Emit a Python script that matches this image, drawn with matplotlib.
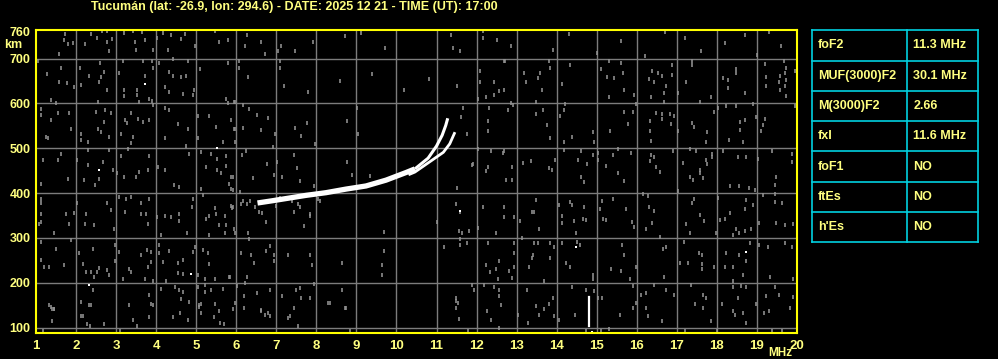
#!/usr/bin/env python3
"""Ionogram plot: Tucumán, 2025-12-21 17:00 UT."""

import matplotlib

matplotlib.use("Agg")
import matplotlib.pyplot as plt

TITLE = "Tucumán (lat: -26.9, lon: 294.6) - DATE: 2025 12 21 - TIME (UT): 17:00"

# ordinary trace (thick lower part, thin upper part)
o_low_freq = [6.53, 6.90, 7.32, 7.74, 8.24, 8.74, 9.24, 9.74, 10.24, 10.46]
o_low_height = [378, 383, 389, 395, 401, 409, 416, 429, 446, 454]
o_up_freq = [10.46, 10.79, 11.00, 11.14, 11.23, 11.28]
o_up_height = [454, 478, 505, 529, 551, 567]

# extraordinary trace
x_freq = [10.30, 10.46, 10.88, 11.17, 11.33, 11.46]
x_height = [441, 447, 473, 491, 510, 536]

# interference spike near 14.8 MHz
spike_freq = [14.81, 14.81]
spike_height = [104, 168]

# background noise dots (MHz, km)
noise_top = [
    (1.72, 756), (2.37, 756), (2.52, 745), (2.65, 762), (2.77, 762), (2.89, 743),
    (1.70, 741), (1.80, 733), (1.57, 710), (1.92, 735), (2.22, 732), (2.77, 737),
    (2.82, 716), (3.20, 758), (3.42, 762), (3.65, 760), (3.47, 737), (3.72, 741),
    (4.01, 746), (3.50, 719), (3.93, 720), (4.30, 720), (4.17, 758), (4.37, 753),
    (4.72, 756), (4.62, 743), (4.97, 728), (5.47, 762), (5.79, 741), (5.56, 737),
    (6.26, 753), (6.61, 737), (6.22, 728), (6.72, 711), (7.04, 717), (7.12, 728),
    (7.47, 717), (7.91, 737), (8.72, 750), (9.11, 758), (9.72, 723), (11.36, 753),
    (11.41, 723), (11.58, 716), (12.17, 762), (12.17, 746), (12.50, 741), (12.86, 728),
    (1.06, 695), (1.63, 679), (2.10, 679), (2.61, 690), (3.18, 695), (3.68, 695),
    (3.89, 695), (3.93, 679), (4.08, 690), (4.41, 700), (4.80, 695), (5.10, 678),
    (5.80, 690), (6.07, 695), (6.07, 679), (7.09, 695), (7.09, 679), (12.71, 695),
    (14.30, 755), (15.60, 740), (16.70, 760), (17.20, 745), (18.20, 735), (18.70, 752),
    (19.30, 760), (19.60, 728), (13.90, 720), (15.00, 712), (16.20, 705), (17.60, 718),
    (19.00, 708), (6.30, 660), (7.20, 640), (7.80, 625), (8.60, 650), (9.40, 665),
    (10.20, 630), (10.80, 655), (11.50, 640),
]

noise_left = [
    (1.27, 666), (1.58, 648), (1.77, 646), (1.94, 636), (1.38, 608), (1.50, 600),
    (2.33, 661), (2.62, 660), (2.69, 671), (2.13, 641), (2.58, 648), (2.77, 630),
    (2.56, 604), (3.08, 669), (3.71, 661), (3.19, 630), (3.52, 630), (3.52, 619),
    (3.19, 616), (3.83, 611), (3.58, 604), (4.33, 671), (4.42, 661), (4.62, 658),
    (4.75, 661), (4.22, 636), (4.33, 626), (4.67, 621), (4.92, 619), (4.94, 630),
    (3.90, 606), (5.75, 611), (5.79, 600), (5.94, 604),
    (1.12, 587), (1.12, 574), (1.38, 563), (1.54, 578), (1.83, 578), (1.88, 544),
    (1.25, 526), (1.29, 522), (2.50, 581), (2.72, 585), (2.88, 578), (2.71, 559),
    (2.54, 544), (2.13, 533), (2.62, 537), (2.83, 526), (2.29, 514), (2.13, 518),
    (3.38, 579), (3.21, 564), (3.28, 557), (3.54, 566), (3.67, 559), (3.83, 563),
    (3.13, 533), (3.42, 526), (3.38, 511), (3.92, 596), (4.21, 589), (4.33, 586),
    (4.54, 555), (4.79, 544), (4.23, 522), (4.75, 505), (5.04, 572), (5.33, 572),
    (5.50, 548), (5.88, 563), (5.94, 544), (5.04, 522), (5.67, 514),
    (1.17, 473), (1.54, 475), (1.63, 488), (2.03, 473), (2.29, 462), (2.29, 496),
    (2.67, 470), (2.58, 432), (2.47, 418), (2.92, 451), (2.83, 497), (1.12, 421),
    (1.79, 432), (2.21, 429), (3.13, 482), (3.03, 444), (3.29, 499), (3.83, 482),
    (3.79, 451), (3.58, 447), (3.50, 435), (3.19, 435), (4.04, 459), (4.23, 451),
    (4.44, 418), (4.58, 414), (4.83, 488), (5.13, 492), (5.38, 487), (5.52, 477),
    (5.75, 482), (5.25, 459), (5.52, 451), (5.75, 460), (5.61, 445), (5.88, 436),
    (5.13, 410), (5.83, 421), (5.88, 410),
    (1.12, 388), (1.12, 377), (1.00, 358), (1.12, 354), (1.12, 336), (1.08, 332),
    (1.46, 310), (1.75, 354), (1.96, 356), (1.83, 332), (2.03, 377), (2.25, 354),
    (2.23, 332), (2.44, 328), (2.78, 377), (2.88, 362), (2.94, 321), (3.08, 392),
    (3.25, 388), (3.38, 392), (3.22, 358), (3.61, 354), (3.75, 353), (3.63, 377),
    (3.83, 388), (3.79, 332), (4.03, 347), (4.21, 348), (4.38, 347), (4.56, 354),
    (4.58, 338), (4.13, 306), (4.78, 311), (4.92, 388), (4.89, 369), (5.17, 395),
    (5.46, 366), (5.33, 350), (5.25, 343), (5.50, 354), (5.71, 350), (5.75, 328),
    (5.58, 328), (5.31, 306), (5.73, 310), (5.92, 369),
    (1.12, 291), (1.50, 276), (1.12, 250), (1.21, 235), (1.33, 235), (1.71, 239),
    (1.88, 296), (2.08, 266), (2.17, 243), (2.25, 224), (2.42, 276), (2.46, 213),
    (2.52, 224), (2.58, 234), (2.38, 224), (2.77, 228), (2.83, 217), (2.96, 284),
    (3.08, 269), (2.97, 249), (3.17, 209), (3.33, 231), (3.36, 224), (3.63, 261),
    (3.78, 274), (3.88, 269), (3.88, 246), (3.79, 235), (3.71, 209), (4.08, 284),
    (4.08, 266), (4.17, 246), (4.33, 272), (4.54, 244), (4.67, 250), (4.54, 222),
    (4.67, 219), (4.92, 269), (4.96, 280), (5.17, 274), (5.29, 266), (5.33, 243),
    (5.04, 217), (5.21, 209), (5.46, 209), (5.83, 213), (3.92, 205), (4.25, 204),
    (2.42, 183), (2.13, 157), (2.38, 150), (1.38, 146), (1.33, 150), (1.46, 142),
    (3.33, 150), (3.88, 153), (3.83, 172), (4.13, 187), (4.46, 191), (4.58, 183),
    (4.67, 179), (4.63, 164), (4.83, 157), (5.04, 191), (5.21, 194), (5.21, 179),
    (5.38, 183), (5.67, 187), (5.13, 153), (5.46, 153), (5.08, 146),
]

noise_middle = [
    (5.96, 603), (6.16, 596), (6.33, 588), (6.51, 574), (6.80, 568), (6.97, 532),
    (5.97, 544), (6.18, 546), (6.61, 541), (5.97, 514), (6.24, 495), (6.14, 486),
    (6.91, 504), (7.43, 486), (7.47, 546), (7.61, 527), (7.76, 556), (7.97, 510),
    (7.01, 469), (6.76, 465), (7.51, 456), (5.91, 437), (5.91, 407), (6.43, 434),
    (6.93, 441), (7.15, 437), (7.59, 428), (7.93, 417), (6.09, 402), (6.18, 382),
    (6.34, 382), (5.89, 367), (6.47, 370), (6.64, 355), (7.09, 389), (7.38, 383),
    (7.59, 368), (7.84, 350), (8.09, 383), (8.76, 562), (9.01, 591), (9.05, 532),
    (8.76, 469), (8.88, 441), (9.34, 439), (11.50, 411), (11.59, 357), (11.92, 465),
    (11.75, 532), (11.60, 570), (11.67, 591),
    (5.86, 372), (6.13, 376), (6.28, 376), (6.58, 358), (6.73, 336), (5.94, 320),
    (5.98, 311), (6.30, 311), (6.33, 298), (6.98, 372), (7.44, 358), (7.55, 376),
    (7.83, 353), (7.69, 327), (8.03, 386), (6.13, 267), (6.38, 262), (6.44, 245),
    (6.73, 272), (6.83, 281), (6.94, 262), (6.94, 249), (7.30, 262), (7.83, 262),
    (7.88, 239), (5.84, 213), (6.28, 213), (6.23, 199), (6.03, 192), (6.19, 171),
    (5.98, 156), (6.19, 143), (6.53, 177), (6.83, 184), (7.13, 171), (7.48, 183),
    (7.58, 189), (7.61, 167), (7.83, 167), (7.94, 198), (7.44, 143), (6.63, 139),
    (8.28, 156), (8.63, 245), (8.63, 184), (8.73, 143), (9.69, 313), (9.69, 270),
    (9.63, 239), (9.63, 217), (11.02, 336), (11.48, 376), (11.55, 315), (11.63, 311),
    (11.80, 315), (11.59, 298), (11.59, 285), (11.77, 289), (11.19, 280), (11.48, 166),
    (11.48, 160), (11.48, 143),
]

noise_right_upper = [
    (12.08, 672), (12.08, 649), (12.44, 649), (12.69, 695), (12.69, 630), (12.55, 627),
    (12.44, 619), (12.23, 614), (12.03, 609), (13.19, 667), (13.58, 667), (13.23, 649),
    (13.53, 657), (13.63, 630), (13.83, 680), (13.80, 695), (13.48, 604), (14.33, 685),
    (14.13, 644), (15.11, 676), (15.30, 695), (15.61, 691), (15.65, 667), (15.44, 657),
    (15.25, 659), (15.69, 630), (15.30, 614), (15.94, 619), (16.38, 672), (16.52, 668),
    (16.63, 662), (16.88, 685), (16.88, 664), (16.30, 655), (16.44, 647), (16.73, 639),
    (16.69, 623), (16.36, 614), (16.69, 604), (17.03, 623), (17.38, 695), (17.38, 685),
    (17.23, 647), (17.57, 604), (17.86, 615), (18.15, 657), (18.28, 652), (18.47, 676),
    (18.48, 667), (18.28, 634), (18.69, 623), (19.19, 689), (19.23, 659), (19.23, 639),
    (19.58, 662), (19.69, 668), (19.73, 680), (19.55, 649), (19.69, 638), (19.73, 653),
    (19.94, 672), (19.57, 630), (19.73, 617), (19.67, 695),
    (12.86, 600), (12.78, 586), (12.30, 589), (12.28, 562), (12.28, 539), (12.90, 596),
    (13.48, 577), (13.65, 585), (13.75, 551), (13.83, 523), (14.19, 585), (14.08, 571),
    (14.22, 598), (14.38, 526), (14.90, 536), (14.19, 513), (14.94, 513), (15.69, 581),
    (15.90, 581), (15.77, 555), (15.33, 539), (15.97, 598), (16.48, 579), (16.63, 576),
    (16.63, 566), (16.83, 576), (16.92, 571), (16.33, 562), (16.86, 555), (16.33, 539),
    (16.36, 517), (17.03, 539), (17.38, 556), (17.44, 547), (17.75, 536), (17.73, 513),
    (17.94, 581), (18.02, 589), (18.23, 594), (18.48, 594), (18.90, 599), (18.69, 564),
    (18.58, 558), (18.58, 541), (18.30, 518), (18.65, 513), (18.98, 570), (19.19, 566),
    (19.15, 551), (19.11, 538), (19.94, 594),
    (12.03, 498), (12.36, 494), (12.65, 490), (12.69, 494), (11.88, 462), (12.28, 458),
    (12.23, 450), (12.88, 458), (12.73, 430), (12.88, 430), (13.36, 471), (13.15, 467),
    (13.80, 456), (13.88, 452), (13.97, 473), (14.19, 496), (14.61, 494), (14.53, 475),
    (14.90, 485), (14.75, 464), (14.61, 435), (14.69, 424), (15.03, 490), (15.03, 475),
    (15.23, 460), (15.40, 485), (15.53, 498), (15.53, 445), (15.86, 490), (15.69, 427),
    (16.36, 485), (16.44, 480), (16.32, 471), (16.48, 458), (16.57, 447), (16.90, 494),
    (17.15, 467), (17.32, 498), (17.48, 494), (17.73, 475), (17.75, 465), (17.88, 488),
    (17.88, 480), (17.57, 452), (17.58, 445), (17.32, 435), (17.40, 430), (17.65, 433),
    (18.15, 494), (18.52, 480), (18.73, 480), (19.02, 477), (19.38, 494), (19.48, 435),
    (19.44, 418), (19.88, 488), (19.88, 470), (18.80, 411), (18.94, 407), (18.32, 415),
    (18.55, 415),
]

noise_right_lower = [
    (12.17, 369), (12.69, 369), (12.69, 347), (12.94, 347), (12.03, 323), (12.48, 311),
    (13.48, 384), (13.38, 358), (13.44, 358), (13.08, 338), (13.57, 321), (14.05, 373),
    (14.33, 380), (14.38, 373), (14.69, 370), (14.13, 348), (14.44, 338), (14.65, 343),
    (14.73, 339), (14.13, 334), (14.48, 311), (15.13, 382), (15.40, 387), (15.08, 365),
    (15.15, 343), (15.23, 341), (15.73, 365), (15.88, 336), (15.94, 325), (16.15, 397),
    (16.28, 393), (16.30, 369), (16.44, 360), (16.38, 334), (16.23, 319), (16.58, 303),
    (17.03, 404), (17.38, 378), (17.44, 387), (17.23, 332), (17.57, 351), (17.69, 338),
    (17.32, 310), (18.02, 390), (18.08, 339), (18.19, 343), (17.98, 310), (18.33, 356),
    (18.48, 319), (18.40, 306), (18.55, 310), (18.69, 316), (18.73, 385), (18.90, 373),
    (18.69, 365), (18.86, 321), (19.15, 395), (19.44, 399), (19.44, 380), (19.63, 378),
    (19.48, 334), (19.69, 328), (19.05, 334), (19.90, 332),
    (12.28, 289), (12.94, 289), (12.94, 267), (12.23, 240), (12.33, 225), (12.55, 249),
    (12.48, 230), (12.80, 227), (12.94, 236), (12.53, 208), (12.88, 210), (13.13, 299),
    (13.44, 289), (13.53, 289), (13.42, 262), (13.38, 255), (13.30, 236), (13.83, 289),
    (13.83, 255), (13.94, 280), (13.69, 205), (14.13, 288), (14.50, 292), (14.58, 284),
    (14.23, 245), (14.33, 236), (14.90, 218), (14.90, 208), (15.63, 284), (15.69, 262),
    (15.36, 230), (15.61, 227), (15.98, 236), (15.83, 208), (16.65, 275), (16.73, 280),
    (16.69, 214), (17.19, 292), (17.08, 245), (17.28, 245), (17.55, 266), (17.63, 262),
    (17.63, 242), (17.63, 230), (17.94, 236), (18.19, 236), (18.23, 267), (18.40, 236),
    (18.55, 262), (18.73, 249), (18.83, 289), (18.65, 218), (19.05, 284), (19.28, 280),
    (19.69, 289), (19.88, 280), (19.33, 213), (19.90, 208), (18.40, 203),
    (11.88, 195), (11.94, 184), (12.19, 195), (12.44, 190), (12.57, 184), (12.57, 170),
    (13.27, 184), (13.90, 165), (14.38, 190), (14.73, 185), (14.94, 182), (15.02, 165),
    (15.13, 167), (15.90, 193), (16.11, 173), (16.23, 177), (16.44, 195), (16.73, 185),
    (16.94, 173), (17.36, 195), (17.65, 173), (17.73, 167), (18.40, 191), (18.61, 193),
    (18.73, 191), (18.52, 167), (19.23, 170), (19.44, 191), (19.55, 173), (19.90, 169),
]

noise_bottom = [
    (1.41, 141), (1.46, 141), (1.41, 114), (1.18, 93), (2.13, 126), (2.18, 126),
    (2.33, 150), (2.27, 107), (2.36, 103), (2.71, 107), (3.10, 92), (3.43, 118),
    (3.52, 103), (3.82, 123), (3.91, 150), (4.41, 123), (4.60, 133), (4.80, 116),
    (5.06, 150), (5.13, 133), (5.45, 123), (5.56, 138), (5.60, 111), (5.70, 107),
    (5.91, 141), (6.63, 137), (6.71, 129), (6.78, 133), (6.84, 126), (7.28, 122),
    (7.33, 126), (7.54, 103), (8.33, 155), (8.72, 144), (8.85, 92), (11.53, 155),
    (11.57, 120), (11.79, 92), (12.25, 137), (12.37, 118), (12.55, 99), (12.61, 150),
    (13.03, 129), (13.29, 111), (13.49, 148), (13.55, 129), (13.68, 141), (13.81, 152),
    (13.94, 126), (14.07, 118), (14.46, 129), (14.72, 92), (15.11, 92), (15.31, 96),
    (15.57, 129), (15.90, 144), (15.97, 155), (16.23, 144), (16.29, 126), (16.62, 114),
    (17.20, 93), (17.46, 152), (17.66, 144), (17.86, 114), (18.00, 92), (18.13, 152),
    (18.39, 137), (18.46, 129), (18.66, 133), (18.72, 111), (18.98, 152), (19.17, 133),
    (19.30, 137), (19.37, 92), (19.63, 92), (19.82, 144),
]

# a few isolated strong returns drawn in white
bright_dots = [(3.72, 643), (5.52, 500), (2.58, 451), (4.87, 220), (2.33, 194),
               (11.58, 361), (14.48, 280), (18.73, 269), (14.88, 90)]

x_ticks = list(range(1, 21))
y_ticks = [100, 200, 300, 400, 500, 600, 700, 760]

param_names = ["foF2", "MUF(3000)F2", "M(3000)F2", "fxI", "foF1", "ftEs", "h'Es"]
param_values = ["11.3 MHz", "30.1 MHz", "2.66", "11.6 MHz", "NO", "NO", "NO"]

TEXT = "#ffff80"
BORDER = "#ffff00"
GRID = "#7c7c7c"
NOISE = "#939393"
CYAN = "#00d0e0"
FONT = ["Liberation Sans", "DejaVu Sans"]

plt.rcParams["font.family"] = FONT
plt.rcParams["font.weight"] = "bold"

fig = plt.figure(figsize=(9.98, 3.59), dpi=100, facecolor="black")

ax = fig.add_axes([36 / 998, 1 - 333 / 359, 761 / 998, 303.5 / 359])
ax.set_facecolor("black")
ax.set_xlim(1, 20)
ax.set_ylim(88, 765)

for f in x_ticks[1:-1]:
    ax.axvline(f, color=GRID, lw=1.0, zorder=1)
for h in y_ticks[:-1]:
    ax.axhline(h, color=GRID, lw=1.0, zorder=1)

all_noise = noise_top + noise_left + noise_middle + noise_right_upper + noise_right_lower + noise_bottom
ax.plot([p[0] for p in all_noise], [p[1] for p in all_noise], ls="none",
        marker="|", ms=2.8, mew=1.15, color=NOISE, zorder=2)
ax.plot([p[0] for p in bright_dots], [p[1] for p in bright_dots], ls="none",
        marker="s", ms=1.8, mew=0, color="white", zorder=2)

ax.plot(o_low_freq, o_low_height, color="white", lw=3.8, solid_capstyle="butt", zorder=3)
ax.plot(o_up_freq, o_up_height, color="white", lw=2.2, solid_capstyle="butt", zorder=3)
ax.plot(x_freq, x_height, color="white", lw=2.0, solid_capstyle="butt", zorder=3)
ax.plot(spike_freq, spike_height, color="white", lw=1.6, zorder=3)

for sp in ax.spines.values():
    sp.set_color(BORDER)
    sp.set_linewidth(1.5)
    sp.set_zorder(4)

ax.set_xticks(x_ticks)
ax.set_xticklabels([str(t) for t in x_ticks])
ax.set_yticks(y_ticks)
ax.set_yticklabels([str(t) for t in y_ticks])
ax.tick_params(length=0, colors=TEXT, labelsize=9)
ax.tick_params(axis="x", pad=5, labelsize=9.5)
ax.tick_params(axis="y", pad=4)

fig.text(13.5 / 998, 1 - 45 / 359, "km", color=TEXT, fontsize=9,
         ha="center", va="center")
fig.text(780 / 998, 1 - 352.5 / 359, "MHz", color=TEXT, fontsize=8.5,
         ha="center", va="center")

fig.text(294.5 / 998, 1 - 7 / 359, TITLE, color=TEXT, fontsize=9,
         ha="center", va="center")

# parameter table
tab = fig.add_axes([812.3 / 998, 1 - 242.3 / 359, 165.4 / 998, 212 / 359])
tab.set_facecolor("black")
tab.set_xlim(0, 165.4)
n = len(param_names)
tab.set_ylim(n, 0)
tab.axis("off")
for i in range(n + 1):
    tab.plot([0, 165.4], [i, i], color=CYAN, lw=1.2, clip_on=False)
for x in (0, 95, 165.4):
    tab.plot([x, x], [0, n], color=CYAN, lw=1.2, clip_on=False)
for i, (name, val) in enumerate(zip(param_names, param_values)):
    tab.text(5.4, i + 0.5, name, color=TEXT, fontsize=9, ha="left", va="center")
    tab.text(101, i + 0.5, val, color=TEXT, fontsize=9, ha="left", va="center")

fig.savefig("out.png", dpi=100, facecolor="black")
